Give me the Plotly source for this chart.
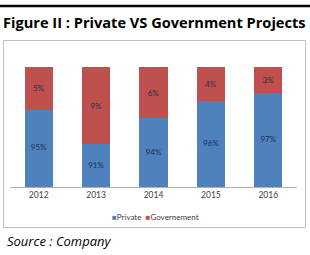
import plotly.graph_objects as go

years = ["2012", "2013", "2014", "2015", "2016"]
private = [95, 91, 94, 96, 97]
government = [5, 9, 6, 4, 3]
y_min, y_max = 86, 100

BLUE = "#4F81BD"
RED = "#C0504D"
W, H = 310, 255
L, R, T, B = 10, 13, 67, 68
PW, PH = W - L - R, H - T - B

def px_x(px):
    return (px - L) / PW

def px_y(py):
    return (H - B - py) / PH

fig = go.Figure()
fig.add_bar(x=years, y=private, name="Private", marker_color=BLUE,
            marker_line_width=0, showlegend=False, hoverinfo="x+y+name")
fig.add_bar(x=years, y=government, name="Governement", marker_color=RED,
            marker_line_width=0, showlegend=False,
            text=[f"{v}%" for v in government], textposition="inside",
            insidetextanchor="middle",
            textfont=dict(family="Lato", size=8, color="#1F3050"))
# labels for private, centred in the visible part of the bar
fig.add_scatter(x=years, y=[(y_min + p) / 2 for p in private],
                text=[f"{v}%" for v in private], mode="text",
                textfont=dict(family="Lato", size=8, color="#1F3050"),
                showlegend=False, hoverinfo="skip")

fig.update_layout(
    width=W, height=H, barmode="stack", bargap=0.51,
    margin=dict(l=L, r=R, t=T, b=B),
    paper_bgcolor="white", plot_bgcolor="white",
    xaxis=dict(showline=True, linecolor="#B0B0B0", linewidth=1,
               ticks="", tickfont=dict(family="Lato", size=8.5, color="#404040"),
               showgrid=False, fixedrange=True),
    yaxis=dict(range=[y_min, y_max], visible=False, fixedrange=True),
    shapes=[
        dict(type="line", xref="paper", yref="paper",
             x0=px_x(0), x1=px_x(310), y0=px_y(6), y1=px_y(6),
             line=dict(color="black", width=2.5)),
        dict(type="rect", xref="paper", yref="paper",
             x0=px_x(3.5), x1=px_x(305.5), y0=px_y(40.5), y1=px_y(227.5),
             line=dict(color="#BFBFBF", width=1), layer="below"),
    ],
    annotations=[
        dict(text="<b>Figure II : Private VS Government Projects</b>",
             xref="paper", yref="paper", x=px_x(1), y=px_y(22),
             xanchor="left", yanchor="middle", showarrow=False,
             font=dict(family="Open Sans", size=14.6, color="black")),
        dict(text=f"<span style='color:{BLUE}'>■</span>Private  "
                  f"<span style='color:{RED}'>■</span>Governement",
             xref="paper", yref="paper", x=px_x(155), y=px_y(217),
             xanchor="center", yanchor="middle", showarrow=False,
             font=dict(family="Lato", size=8, color="#404040")),
        dict(text="<i>Source : Company</i>",
             xref="paper", yref="paper", x=px_x(5), y=px_y(241),
             xanchor="left", yanchor="middle", showarrow=False,
             font=dict(family="Open Sans", size=13, color="black")),
    ],
)

fig.write_html("out.html")
